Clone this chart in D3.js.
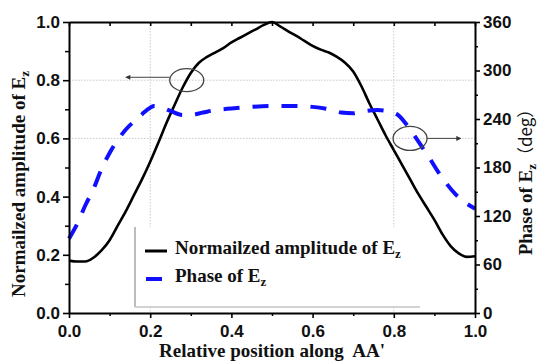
<!DOCTYPE html>
<html>
<head>
<meta charset="utf-8">
<script src="https://cdn.jsdelivr.net/npm/d3@7"></script>
<style>
  html, body { margin: 0; padding: 0; background: #fff; }
  svg { display: block; }
  .tick text { font-family: "Liberation Sans", Arial, sans-serif; font-weight: bold; font-size: 17px; fill: #111; }
  .title { font-family: "Liberation Serif", "Times New Roman", Times, "DejaVu Serif", serif; font-weight: bold; font-size: 19px; fill: #111; }
  .cjk { font-family: "Noto Sans CJK SC", sans-serif; font-weight: normal; }
</style>
</head>
<body>
<svg id="chart" width="539" height="361"></svg>
<script>
// Position along AA' (relative, 0..1) and normalized amplitude of Ez
const ampX = [0.00, 0.02, 0.04, 0.06, 0.08, 0.10, 0.12, 0.14, 0.16, 0.18, 0.20, 0.22, 0.24, 0.26, 0.28, 0.30,
              0.32, 0.34, 0.36, 0.38, 0.40, 0.42, 0.44, 0.46, 0.48, 0.50, 0.52, 0.54, 0.56, 0.58, 0.60, 0.62,
              0.64, 0.66, 0.68, 0.70, 0.72, 0.74, 0.76, 0.78, 0.80, 0.82, 0.84, 0.86, 0.88, 0.90, 0.92, 0.94,
              0.96, 0.98, 1.00];
const ampY = [0.180, 0.177, 0.177, 0.190, 0.215, 0.250, 0.300, 0.350, 0.405, 0.460, 0.520, 0.585, 0.653, 0.715, 0.775, 0.825,
              0.860, 0.880, 0.895, 0.910, 0.930, 0.945, 0.960, 0.975, 0.990, 1.000, 0.985, 0.968, 0.952, 0.935, 0.918, 0.905,
              0.895, 0.880, 0.860, 0.830, 0.780, 0.720, 0.665, 0.610, 0.560, 0.510, 0.460, 0.410, 0.365, 0.320, 0.270, 0.230,
              0.205, 0.193, 0.195];

// Position along AA' and phase of Ez in degrees
const phaseX = [0.00, 0.02, 0.04, 0.06, 0.08, 0.10, 0.12, 0.14, 0.16, 0.18, 0.20, 0.21, 0.23, 0.25, 0.28, 0.30,
                0.33, 0.36, 0.40, 0.45, 0.50, 0.55, 0.60, 0.64, 0.67, 0.70, 0.72, 0.76, 0.79, 0.81, 0.83, 0.85,
                0.87, 0.89, 0.91, 0.93, 0.95, 0.97, 0.99, 1.00];
const phaseDeg = [92, 110, 133, 153, 178, 198, 214, 227, 237, 246, 254, 256, 254, 250, 245, 245,
                  248, 251, 253, 255, 256, 256, 255, 252, 248, 247, 249, 251, 249, 245, 234, 220,
                  205, 190, 174, 160, 148, 139, 132, 129];

// Axis ticks
const xTicks = [0.0, 0.2, 0.4, 0.6, 0.8, 1.0];
const xMinor = [0.1, 0.3, 0.5, 0.7, 0.9];
const yLeftTicks = [0.0, 0.2, 0.4, 0.6, 0.8, 1.0];
const yLeftMinor = [0.1, 0.3, 0.5, 0.7, 0.9];
const yRightTicks = [0, 60, 120, 180, 240, 300, 360];
const yRightMinor = [30, 90, 150, 210, 270, 330];
const gridX = [0.2, 0.8];
const gridY = [0.6, 0.8];

const legendLabels = ["Normailzed amplitude of E", "Phase of E"];

const svg = d3.select("#chart");
const m = { left: 69, right: 475, top: 22, bottom: 313 };

const x = d3.scaleLinear().domain([0, 1]).range([m.left, m.right]);
const yL = d3.scaleLinear().domain([0, 1]).range([m.bottom, m.top]);
const yR = d3.scaleLinear().domain([0, 360]).range([m.bottom, m.top]);

// dotted reference grid
const grid = svg.append("g").attr("stroke", "#c8c8c8").attr("stroke-width", 1).attr("stroke-dasharray", "1.5,1.5");
grid.selectAll("line.gx").data(gridX).join("line")
  .attr("x1", d => x(d)).attr("x2", d => x(d)).attr("y1", m.top).attr("y2", m.bottom);
grid.selectAll("line.gy").data(gridY).join("line")
  .attr("x1", m.left).attr("x2", m.right).attr("y1", d => yL(d)).attr("y2", d => yL(d));

// legend panel (white, with grey left and bottom edges)
const lg = svg.append("g");
lg.append("rect").attr("x", 135).attr("y", 227).attr("width", 285).attr("height", 80).attr("fill", "#fff");
lg.append("line").attr("x1", 135).attr("x2", 135).attr("y1", 227).attr("y2", 307).attr("stroke", "#999").attr("stroke-width", 1.3);
lg.append("line").attr("x1", 135).attr("x2", 420).attr("y1", 307).attr("y2", 307).attr("stroke", "#c4c4c4").attr("stroke-width", 1.3);

lg.append("line").attr("x1", 145).attr("x2", 167).attr("y1", 251).attr("y2", 251)
  .attr("stroke", "#000").attr("stroke-width", 3);
lg.append("line").attr("x1", 146).attr("x2", 162).attr("y1", 279).attr("y2", 279)
  .attr("stroke", "#1010ff").attr("stroke-width", 4);

function subscriptLabel(sel, base) {
  sel.append("tspan").text(base);
  sel.append("tspan").attr("font-size", "13px").attr("dy", 4).text("z");
}
subscriptLabel(lg.append("text").attr("class", "title").attr("x", 175).attr("y", 254), legendLabels[0]);
subscriptLabel(lg.append("text").attr("class", "title").attr("x", 175).attr("y", 282), legendLabels[1]);

// curves
const ampLine = d3.line().x(d => x(d[0])).y(d => yL(d[1])).curve(d3.curveMonotoneX);
const phaseLine = d3.line().x(d => x(d[0])).y(d => yR(d[1])).curve(d3.curveMonotoneX);

svg.append("path").datum(d3.zip(ampX, ampY)).attr("d", ampLine)
  .attr("fill", "none").attr("stroke", "#000").attr("stroke-width", 2.6).attr("stroke-linejoin", "round");
svg.append("path").datum(d3.zip(phaseX, phaseDeg)).attr("d", phaseLine)
  .attr("fill", "none").attr("stroke", "#1010ff").attr("stroke-width", 4).attr("stroke-dasharray", "16,13");

// axes
function styleAxis(g) {
  g.select(".domain").attr("stroke", "#000").attr("stroke-width", 2);
  g.selectAll(".tick line").attr("stroke", "#000").attr("stroke-width", 1.6);
}
const bottomAxis = svg.append("g").attr("transform", `translate(0,${m.bottom})`)
  .call(d3.axisBottom(x).tickValues(xTicks).tickFormat(d3.format(".1f")).tickSize(5).tickPadding(7).tickSizeOuter(0));
styleAxis(bottomAxis);
svg.append("g").attr("transform", `translate(0,${m.bottom})`)
  .call(d3.axisBottom(x).tickValues(xMinor).tickFormat("").tickSize(3).tickSizeOuter(0))
  .call(g => { g.select(".domain").remove(); g.selectAll("line").attr("stroke", "#000").attr("stroke-width", 1.5); });

const topAxis = svg.append("g").attr("transform", `translate(0,${m.top})`)
  .call(d3.axisBottom(x).tickValues(xTicks.concat(xMinor)).tickFormat("").tickSize(4).tickSizeOuter(0));
styleAxis(topAxis);

const leftAxis = svg.append("g").attr("transform", `translate(${m.left},0)`)
  .call(d3.axisLeft(yL).tickValues(yLeftTicks).tickFormat(d3.format(".1f")).tickSize(6).tickPadding(3).tickSizeOuter(0));
styleAxis(leftAxis);
svg.append("g").attr("transform", `translate(${m.left},0)`)
  .call(d3.axisLeft(yL).tickValues(yLeftMinor).tickFormat("").tickSize(4).tickSizeOuter(0))
  .call(g => { g.select(".domain").remove(); g.selectAll("line").attr("stroke", "#000").attr("stroke-width", 1.5); });

const rightAxis = svg.append("g").attr("transform", `translate(${m.right},0)`)
  .call(d3.axisRight(yR).tickValues(yRightTicks).tickSize(5).tickPadding(3).tickSizeOuter(0));
styleAxis(rightAxis);
svg.append("g").attr("transform", `translate(${m.right},0)`)
  .call(d3.axisRight(yR).tickValues(yRightMinor).tickFormat("").tickSize(3).tickSizeOuter(0))
  .call(g => { g.select(".domain").remove(); g.selectAll("line").attr("stroke", "#000").attr("stroke-width", 1.5); });

// annotation ellipses with arrows pointing to the relevant axis
const defs = svg.append("defs");
defs.append("marker").attr("id", "arrowHead").attr("viewBox", "0 0 10 10")
  .attr("refX", 9).attr("refY", 5).attr("markerWidth", 7).attr("markerHeight", 5)
  .attr("markerUnits", "userSpaceOnUse").attr("orient", "auto")
  .append("path").attr("d", "M0,0L10,5L0,10Z").attr("fill", "#333");

const ann = svg.append("g").attr("fill", "none").attr("stroke", "#444").attr("stroke-width", 1.3);
ann.append("ellipse").attr("cx", x(0.29)).attr("cy", yL(0.80)).attr("rx", 17).attr("ry", 11.5);
ann.append("line").attr("x1", x(0.29) - 17).attr("x2", x(0.14)).attr("y1", yL(0.81)).attr("y2", yL(0.81))
  .attr("stroke-width", 1).attr("marker-end", "url(#arrowHead)");
ann.append("ellipse").attr("cx", x(0.84)).attr("cy", yR(216)).attr("rx", 17).attr("ry", 12);
ann.append("line").attr("x1", x(0.84) + 17).attr("x2", x(0.965)).attr("y1", yR(216)).attr("y2", yR(216))
  .attr("stroke-width", 1).attr("marker-end", "url(#arrowHead)");

// axis titles
svg.append("text").attr("class", "title").attr("text-anchor", "middle")
  .attr("x", 272).attr("y", 357).text("Relative position along\u00A0 AA'");

const lt = svg.append("text").attr("class", "title").attr("text-anchor", "middle")
  .attr("transform", "translate(25,184) rotate(-90)");
subscriptLabel(lt, "Normailzed amplitude of E");

const rt = svg.append("text").attr("class", "title").attr("text-anchor", "middle")
  .attr("transform", "translate(532,178) rotate(-90)");
rt.append("tspan").text("Phase of E");
rt.append("tspan").attr("font-size", "13px").attr("dy", 4).text("z");
rt.append("tspan").attr("class", "cjk").attr("font-size", "17px").attr("dy", -4).text("（deg）");
</script>
</body>
</html>
